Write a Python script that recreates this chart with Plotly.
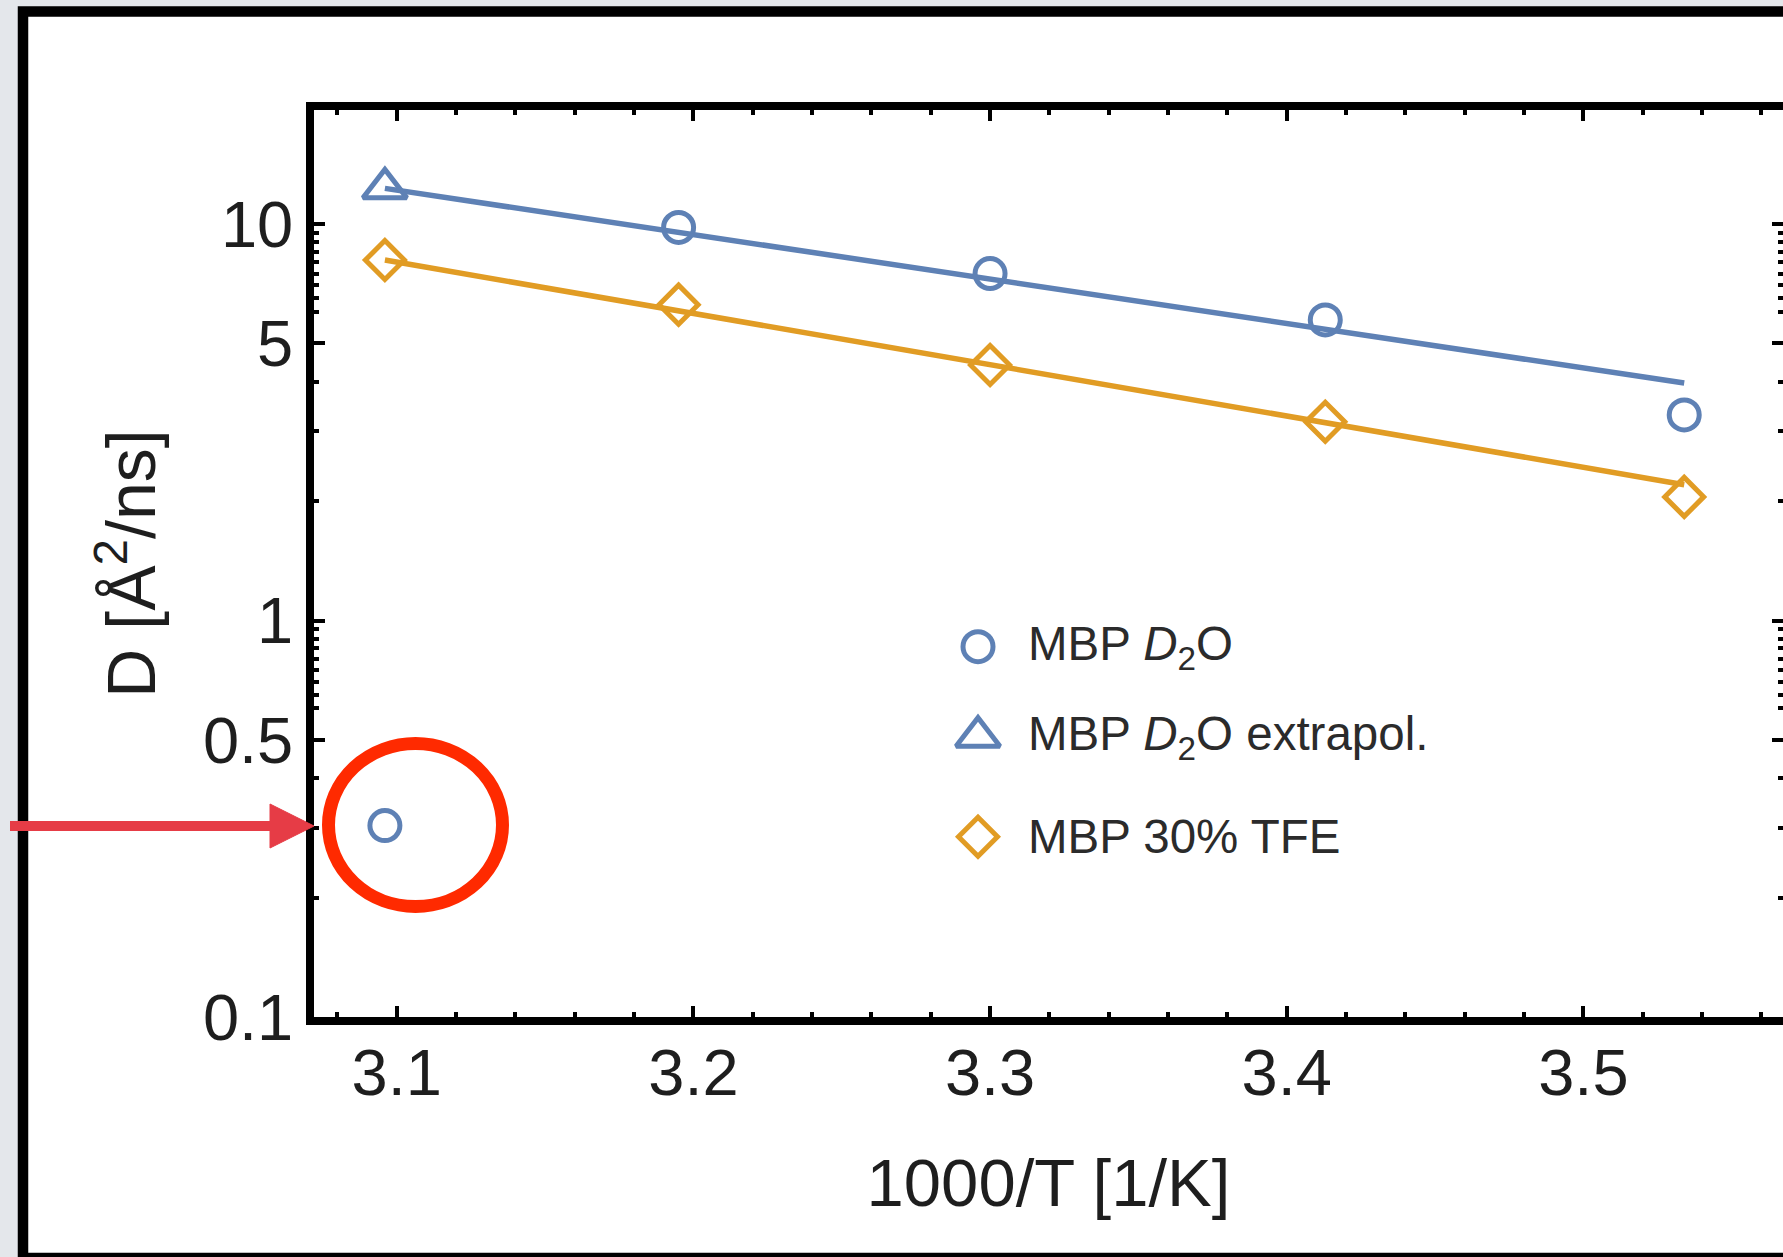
import plotly.graph_objects as go

# ---- data -----------------------------------------------------------------
# inverse temperature 1000/T [1/K]
d2o_x = [3.096, 3.195, 3.300, 3.413, 3.534]
d2o_D = [0.304, 9.80, 7.50, 5.73, 3.30]          # MBP in D2O, D [Å²/ns]

extra_x = [3.096]
extra_D = [12.3]                                 # MBP in D2O, extrapolated

tfe_x = [3.096, 3.195, 3.300, 3.413, 3.534]
tfe_D = [8.11, 6.26, 4.41, 3.17, 2.05]           # MBP in 30% TFE

# Arrhenius fit lines (straight on the log scale, end points)
fit_x = [3.096, 3.534]
d2o_fit_D = [12.3, 3.97]
tfe_fit_D = [8.11, 2.20]

x_tickvals = [3.1, 3.2, 3.3, 3.4, 3.5]
y_tickvals = [0.1, 0.5, 1, 5, 10]
y_ticktext = ["0.1", "0.5", "1", "5", "10"]
y_minorvals = [0.2, 0.3, 0.4,
               0.6, 0.65, 0.7, 0.75, 0.8, 0.85, 0.9, 0.95,
               2, 3, 4,
               6, 6.5, 7, 7.5, 8, 8.5, 9, 9.5]

legend_names = ["MBP <i>D</i><sub>2</sub>O",
                "MBP <i>D</i><sub>2</sub>O extrapol.",
                "MBP 30% TFE"]

# ---- style ----------------------------------------------------------------
BLUE = "#5e81b5"
ORANGE = "#e19c24"
FONT = "Liberation Sans, Arial, Helvetica, sans-serif"
INK = "#1e1e1e"

W, H = 1783, 1257
L, R, T, B = 314, 0, 110, 240
PW, PH = W - L - R, H - T - B


def px_x(x):
    return (x - L) / PW


def px_y(y):
    return (H - B - y) / PH


MARKER_LW = 5

fig = go.Figure()

fig.add_trace(go.Scatter(x=fit_x, y=d2o_fit_D, mode="lines",
                         line=dict(color=BLUE, width=5.5), showlegend=False))
fig.add_trace(go.Scatter(x=fit_x, y=tfe_fit_D, mode="lines",
                         line=dict(color=ORANGE, width=5.5), showlegend=False))
fig.add_trace(go.Scatter(x=d2o_x, y=d2o_D, mode="markers", name=legend_names[0],
                         marker=dict(symbol="circle-open", size=30, color=BLUE, opacity=1,
                                     line=dict(width=MARKER_LW, color=BLUE)),
                         showlegend=False))
fig.add_trace(go.Scatter(x=extra_x, y=extra_D, mode="markers", name=legend_names[1],
                         marker=dict(symbol="triangle-up-open", size=38, color=BLUE, opacity=1,
                                     line=dict(width=MARKER_LW, color=BLUE)),
                         showlegend=False))
fig.add_trace(go.Scatter(x=tfe_x, y=tfe_D, mode="markers", name=legend_names[2],
                         marker=dict(symbol="diamond-open", size=30, color=ORANGE, opacity=1,
                                     line=dict(width=MARKER_LW, color=ORANGE)),
                         showlegend=False))

# legend drawn inside the plot on an overlay axis pair
leg_x = px_x(978)
leg_y = [px_y(646.7), px_y(736.7), px_y(836.7)]
leg_symbols = ["circle-open", "triangle-up-open", "diamond-open"]
leg_colors = [BLUE, BLUE, ORANGE]
leg_sizes = [30, 38, 30]
fig.add_trace(go.Scatter(x=[leg_x] * 3, y=leg_y, xaxis="x2", yaxis="y2",
                         mode="markers", showlegend=False, hoverinfo="skip",
                         marker=dict(symbol=leg_symbols, size=leg_sizes, color=leg_colors,
                                     opacity=1,
                                     line=dict(width=MARKER_LW, color=leg_colors))))

annotations = []
for name, yy in zip(legend_names, leg_y):
    annotations.append(dict(x=px_x(1026), y=yy, xref="paper", yref="paper",
                            text=name, showarrow=False, xanchor="left", yanchor="middle",
                            font=dict(family=FONT, size=47.5, color="#2b2b2b")))

shapes = [
    # white panel with a thick black frame
    dict(type="rect", xref="paper", yref="paper", layer="below",
         x0=px_x(23), x1=px_x(1900), y0=px_y(11.5), y1=px_y(1258),
         fillcolor="white", line=dict(color="black", width=10.5)),
    # red ellipse around the outlier
    dict(type="circle", xref="paper", yref="paper", layer="above",
         x0=px_x(328.5), x1=px_x(502.5), y0=px_y(906.5), y1=px_y(743.5),
         line=dict(color="#ff2a00", width=13)),
    # red pointer arrow
    dict(type="line", xref="paper", yref="paper", layer="above",
         x0=px_x(10), x1=px_x(274), y0=px_y(826), y1=px_y(826),
         line=dict(color="#e63c46", width=10)),
    dict(type="path", xref="paper", yref="paper", layer="above",
         path=f"M{px_x(270)},{px_y(804)} L{px_x(314)},{px_y(826)} L{px_x(270)},{px_y(848)} Z",
         fillcolor="#e63c46", line=dict(color="#e63c46", width=1)),
]

axis_common = dict(showline=True, linecolor="black", linewidth=7.5, mirror="allticks",
                   ticks="inside", ticklen=11, tickwidth=4, tickcolor="black",
                   showgrid=False, zeroline=False,
                   tickfont=dict(family=FONT, size=65, color=INK))

fig.update_layout(
    width=W, height=H, autosize=False,
    margin=dict(l=L, r=R, t=T, b=B, pad=0),
    paper_bgcolor="#e4e7eb", plot_bgcolor="rgba(0,0,0,0)",
    template="none",
    showlegend=False,
    xaxis=dict(range=[3.0721, 3.5673], tickmode="array", tickvals=x_tickvals,
               ticktext=[f"{v:.1f}" for v in x_tickvals],
               minor=dict(ticks="inside", dtick=0.02, tick0=3.0, ticklen=5,
                          tickwidth=4, tickcolor="black"),
               ticklabelstandoff=-8,
               title=dict(text="1000/T [1/K]", standoff=54,
                          font=dict(family=FONT, size=67, color=INK)),
               **axis_common),
    yaxis=dict(type="log", range=[-1, 1.2875], tickmode="array", tickvals=y_tickvals,
               ticktext=y_ticktext,
               minor=dict(ticks="inside", tickmode="array", tickvals=y_minorvals,
                          ticklen=5, tickwidth=4, tickcolor="black"),
               ticklabelstandoff=0,
               title=dict(text="D [Å<sup>2</sup>/ns]", standoff=28,
                          font=dict(family=FONT, size=68, color=INK)),
               **axis_common),
    xaxis2=dict(overlaying="x", range=[0, 1], visible=False, fixedrange=True),
    yaxis2=dict(overlaying="y", range=[0, 1], visible=False, fixedrange=True),
    annotations=annotations,
    shapes=shapes,
)

fig.write_html("out.html")
